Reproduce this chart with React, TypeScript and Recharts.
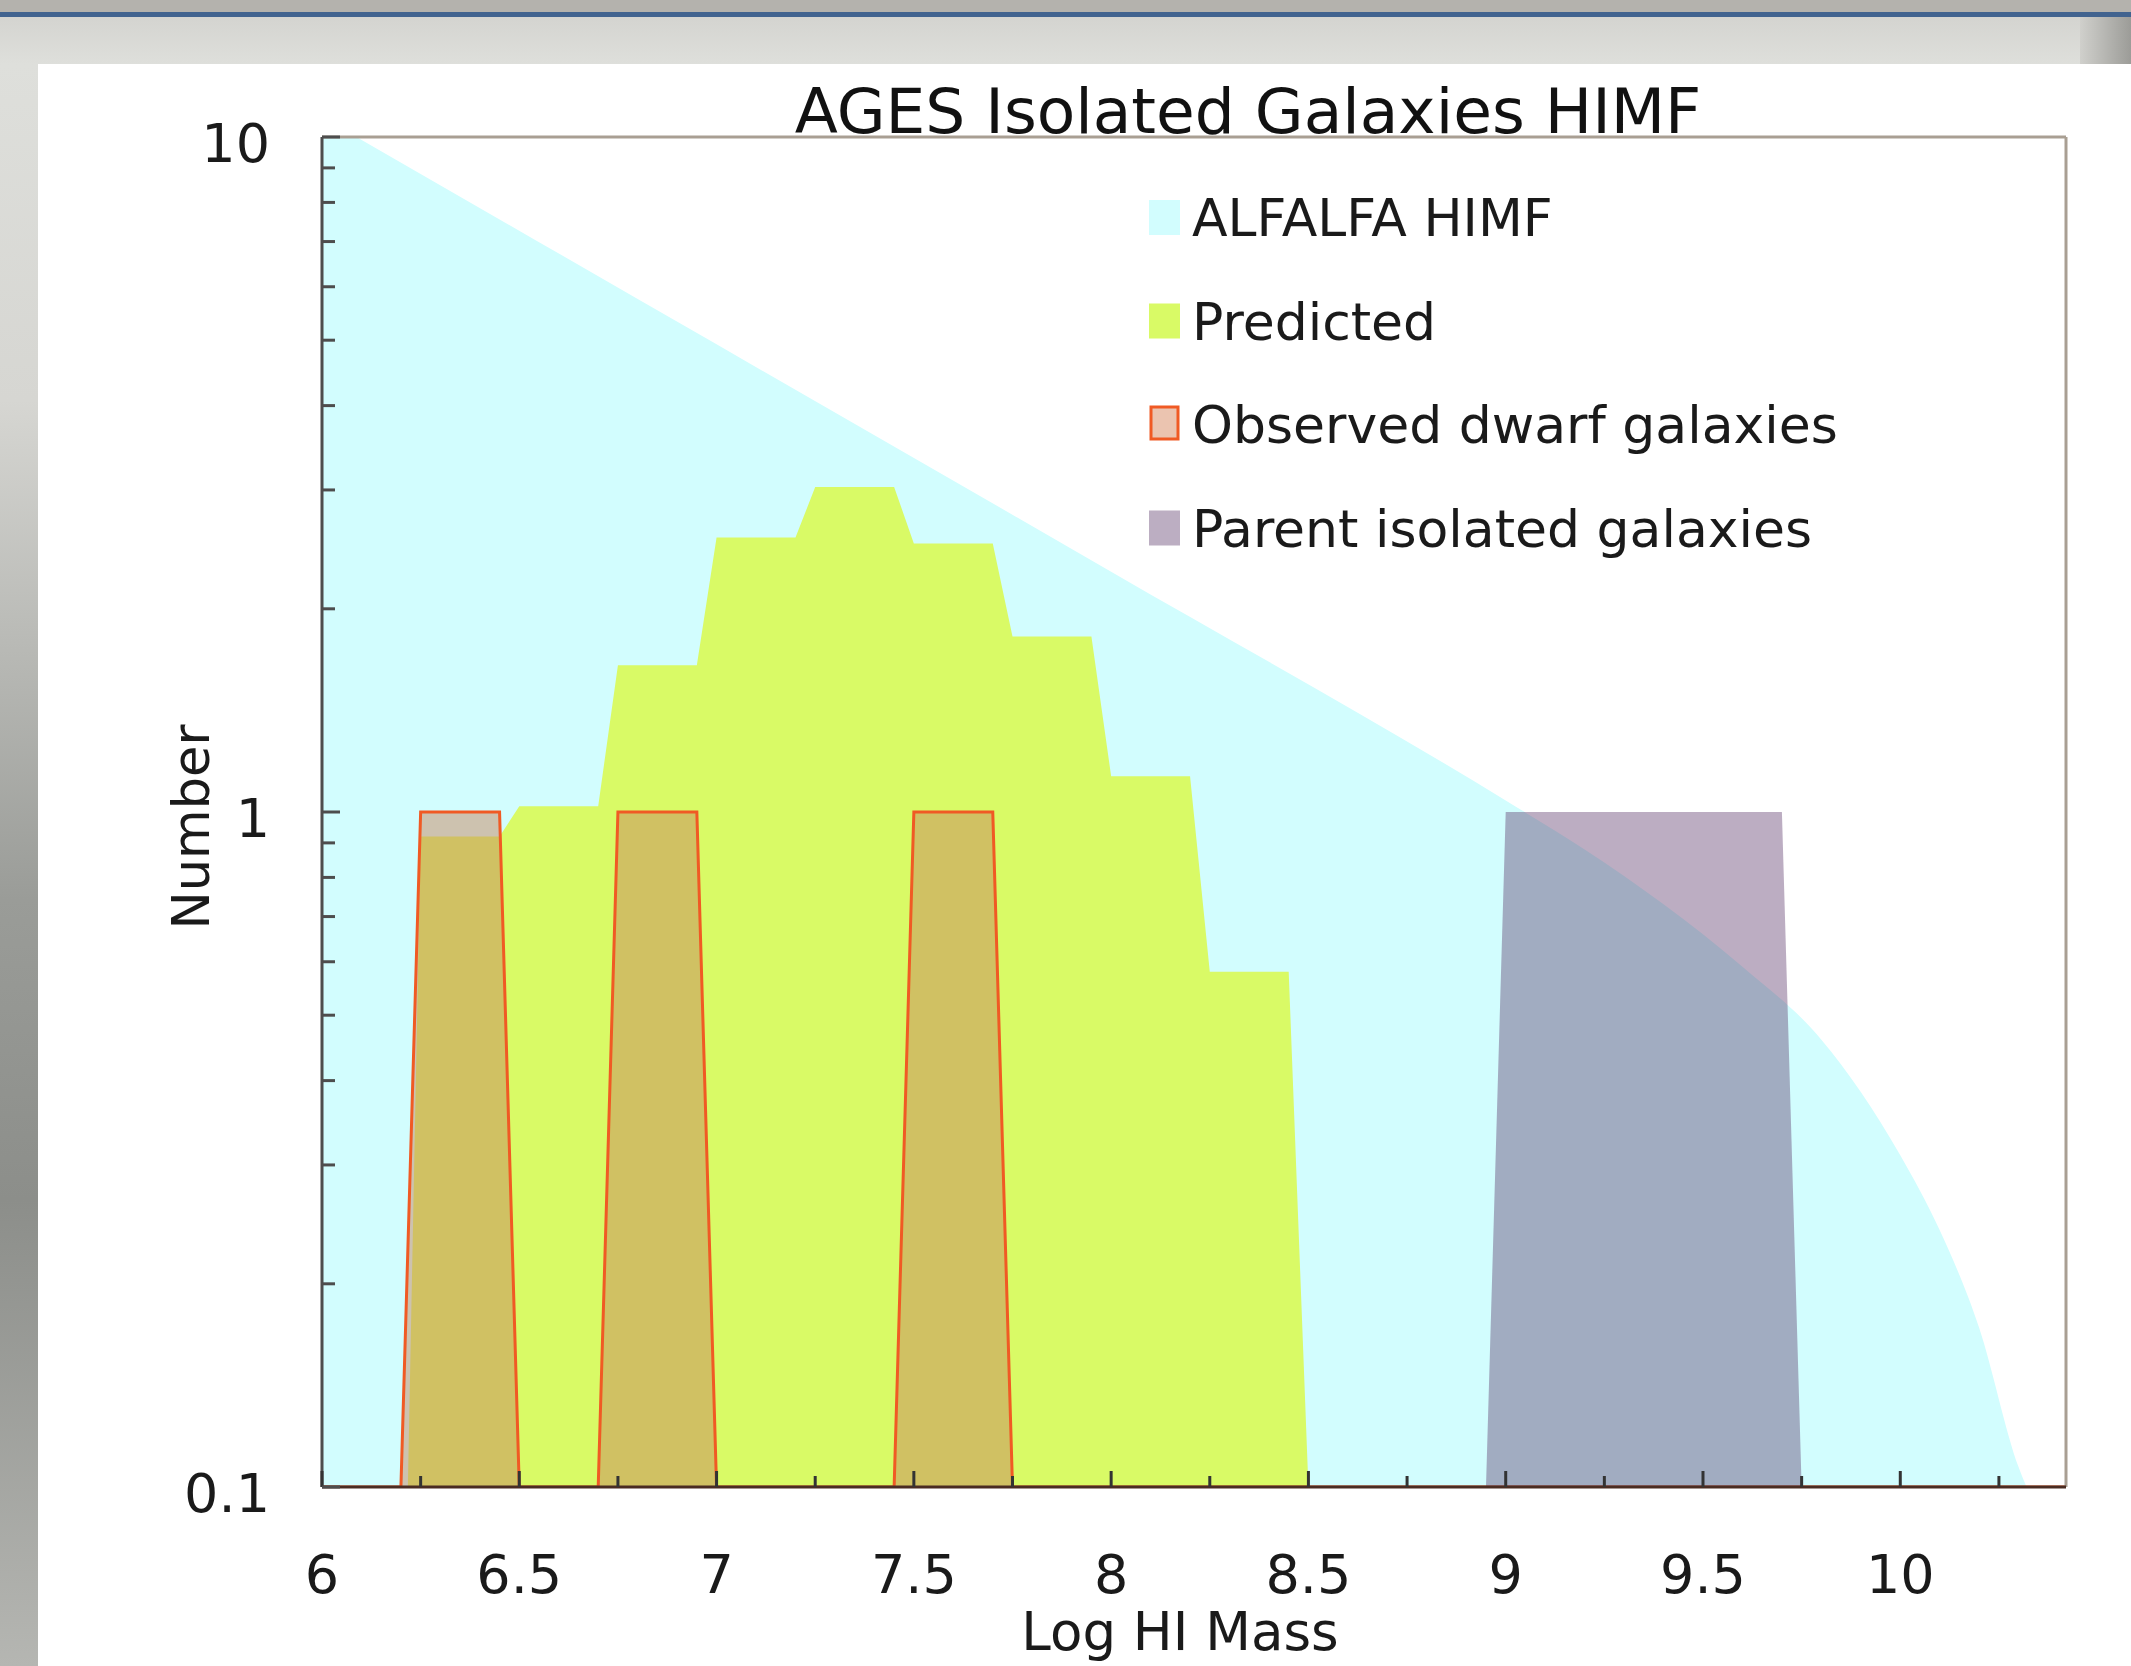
import React from 'react';
import { ComposedChart, Area, XAxis, YAxis, ReferenceLine } from 'recharts';

// histogram bins (left edge of each 0.25 dex bin)
const binStarts = [6.0, 6.25, 6.5, 6.75, 7.0, 7.25, 7.5, 7.75, 8.0, 8.25, 8.5, 8.75, 9.0, 9.25, 9.5, 9.75, 10.0, 10.25];
const predictedCounts = [0.03, 0.92, 1.02, 1.65, 2.55, 3.03, 2.5, 1.82, 1.13, 0.58, 0, 0, 0, 0, 0, 0, 0, 0];
const observedCounts = [0, 1, 0, 1, 0, 0, 1, 0, 0, 0, 0, 0, 0, 0, 0, 0, 0, 0];
const parentCounts = [0, 0, 0, 0, 0, 0, 0, 0, 0, 0, 0, 0, 1, 1, 1, 0, 0, 0];

// ALFALFA HI mass function
const alfalfaX = [6.0, 7.0, 8.0, 9.0, 9.2, 9.4, 9.6, 9.8, 10.0, 10.1, 10.2, 10.3, 10.32];
const alfalfaN = [10.7, 4.93, 2.27, 1.04, 0.88, 0.73, 0.59, 0.46, 0.31, 0.24, 0.172, 0.107, 0.1];

const xTicks = [6, 6.25, 6.5, 6.75, 7, 7.25, 7.5, 7.75, 8, 8.25, 8.5, 8.75, 9, 9.25, 9.5, 9.75, 10, 10.25];
const yTicks = [0.1, 0.2, 0.3, 0.4, 0.5, 0.6, 0.7, 0.8, 0.9, 1, 2, 3, 4, 5, 6, 7, 8, 9, 10];
const yLabels = [0.1, 1, 10];

const FLOOR = 0.1; // log axis minimum, zero counts sit here
const FLAT = 0.2; // flat part of each bin before the ramp to the next one
const X_MAX = 10.42;
const FONT = 'DejaVu Sans, Verdana, sans-serif';

const toSteps = (counts: number[]) =>
  binStarts.flatMap((s, i) => {
    const v = counts[i] === 0 ? FLOOR : counts[i];
    return [
      { x: s, v },
      { x: +(s + FLAT).toFixed(2), v },
    ];
  });

const alfalfaData = alfalfaX.map((x, i) => ({ x, v: alfalfaN[i] }));
const predictedData = toSteps(predictedCounts);
const observedData = toSteps(observedCounts);
const parentData = toSteps(parentCounts);

const YTick = (props: any) => {
  const { x, y, payload } = props;
  const major = yLabels.includes(payload.value);
  return (
    <g>
      <line x1={x} y1={y} x2={x + (major ? 18 : 13)} y2={y} stroke="#4d4d4d" strokeWidth={3} />
      {major && (
        <text x={x - 52} y={y + 25} textAnchor="end" fontSize={54} fontFamily={FONT} fill="#1a1a1a">
          {String(payload.value)}
        </text>
      )}
    </g>
  );
};

const XTick = (props: any) => {
  const { x, y, payload } = props;
  const major = Number.isInteger(payload.value * 2);
  return (
    <g>
      <line x1={x} y1={y} x2={x} y2={y - (major ? 16 : 11)} stroke="#333" strokeWidth={3} />
      {major && (
        <text x={x} y={y + 106} textAnchor="middle" fontSize={54} fontFamily={FONT} fill="#1a1a1a">
          {String(payload.value)}
        </text>
      )}
    </g>
  );
};

const legendItems = [
  { name: 'ALFALFA HIMF', fill: '#d2fdfe', stroke: 'none' },
  { name: 'Predicted', fill: '#d9fa66', stroke: 'none' },
  { name: 'Observed dwarf galaxies', fill: '#ebc4b0', stroke: '#f05a24' },
  { name: 'Parent isolated galaxies', fill: '#bcaec2', stroke: 'none' },
];

export default function App() {
  return (
    <div
      style={{
        position: 'absolute',
        left: 0,
        top: 0,
        width: 2131,
        height: 1666,
        overflow: 'hidden',
        background: 'linear-gradient(180deg, #b4b2ad 0px, #b4b2ad 12px, #41638f 12px, #41638f 17px, #d4d4d0 17px, #dedfdb 64px, #d6d6d2 400px, #9a9c98 900px, #8c8e8a 1200px, #b5b6b2 1666px)',
      }}
    >
      <div style={{ position: 'absolute', left: 2080, top: 17, width: 51, height: 47, background: 'linear-gradient(90deg, #d0d0cc, #9c9c98)' }} />
      <div style={{ position: 'absolute', left: 38, top: 64, width: 2093, height: 1602, background: '#ffffff' }} />
      <div style={{ position: 'absolute', left: 0, top: 0 }}>
        <ComposedChart width={2131} height={1666} margin={{ top: 137, right: 65, bottom: 0, left: 0 }}>
          <Area data={alfalfaData} dataKey="v" type="monotone" fill="#d2fdfe" fillOpacity={1} stroke="none" baseValue={FLOOR} dot={false} activeDot={false} isAnimationActive={false} />
          <Area data={predictedData} dataKey="v" type="linear" fill="#d9fa66" fillOpacity={1} stroke="none" baseValue={FLOOR} dot={false} activeDot={false} isAnimationActive={false} />
          <Area data={observedData} dataKey="v" type="linear" fill="rgb(200,135,95)" fillOpacity={0.5} stroke="#f05a24" strokeWidth={3} baseValue={FLOOR} dot={false} activeDot={false} isAnimationActive={false} />
          <Area data={parentData} dataKey="v" type="linear" fill="rgb(92,57,106)" fillOpacity={0.41} stroke="none" baseValue={FLOOR} dot={false} activeDot={false} isAnimationActive={false} />
          <ReferenceLine y={10} stroke="#a99f93" strokeWidth={3} />
          <ReferenceLine x={X_MAX} stroke="#a99f93" strokeWidth={3} />
          <XAxis
            dataKey="x"
            type="number"
            domain={[6, X_MAX]}
            allowDataOverflow
            ticks={xTicks}
            interval={0}
            height={179}
            tickSize={0}
            tickMargin={0}
            tickLine={false}
            axisLine={{ stroke: '#4a2c22', strokeWidth: 3 }}
            tick={<XTick />}
          />
          <YAxis
            type="number"
            scale="log"
            domain={[0.1, 10]}
            allowDataOverflow
            ticks={yTicks}
            interval={0}
            width={322}
            tickSize={0}
            tickMargin={0}
            tickLine={false}
            axisLine={{ stroke: '#4d4d4d', strokeWidth: 3 }}
            tick={<YTick />}
          />
        </ComposedChart>
      </div>
      <svg width={2131} height={1666} style={{ position: 'absolute', left: 0, top: 0, pointerEvents: 'none' }}>
        <text x={1248} y={133} textAnchor="middle" fontSize={63} fontFamily={FONT} fill="#111">
          AGES Isolated Galaxies HIMF
        </text>
        <text x={1180} y={1650} textAnchor="middle" fontSize={53} fontFamily={FONT} fill="#1a1a1a">
          Log HI Mass
        </text>
        <text transform="translate(209,827) rotate(-90)" textAnchor="middle" fontSize={51} fontFamily={FONT} fill="#1a1a1a">
          Number
        </text>
        {legendItems.map((item, i) => {
          const base = 236 + i * 103.5;
          return (
            <g key={item.name}>
              <rect
                x={item.stroke === 'none' ? 1149 : 1151}
                y={base - 36}
                width={item.stroke === 'none' ? 31 : 27}
                height={item.stroke === 'none' ? 35 : 32}
                fill={item.fill}
                stroke={item.stroke}
                strokeWidth={3}
              />
              <text x={1192} y={base} fontSize={52} fontFamily={FONT} fill="#1a1a1a">
                {item.name}
              </text>
            </g>
          );
        })}
      </svg>
    </div>
  );
}
